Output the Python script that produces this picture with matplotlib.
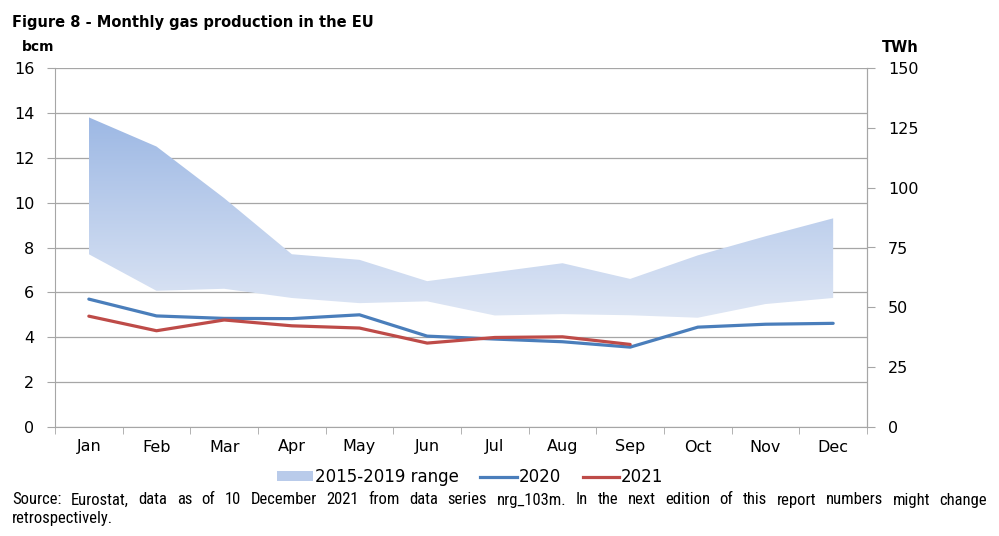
import matplotlib
matplotlib.use("Agg")
import matplotlib.pyplot as plt
import numpy as np
from matplotlib.colors import LinearSegmentedColormap
from matplotlib.patches import Patch
from matplotlib.lines import Line2D
from matplotlib import font_manager as fm

months = ["Jan", "Feb", "Mar", "Apr", "May", "Jun", "Jul", "Aug", "Sep", "Oct", "Nov", "Dec"]
range_upper = [13.8, 12.5, 10.2, 7.7, 7.45, 6.5, 6.9, 7.3, 6.6, 7.65, 8.5, 9.3]
range_lower = [7.7, 6.07, 6.16, 5.75, 5.52, 5.6, 4.97, 5.03, 4.98, 4.87, 5.48, 5.75]
y2020 = [5.7, 4.95, 4.84, 4.83, 5.0, 4.05, 3.92, 3.8, 3.56, 4.45, 4.58, 4.62]
y2021 = [4.94, 4.29, 4.77, 4.51, 4.41, 3.74, 3.99, 4.02, 3.68]
left_ticks = [0, 2, 4, 6, 8, 10, 12, 14, 16]
right_ticks = [0, 25, 50, 75, 100, 125, 150]

# pick a condensed font for the source note if available
available = set(f.name for f in fm.fontManager.ttflist)
narrow = None
for cand in ["Liberation Sans Narrow", "Arial Narrow", "Roboto Condensed", "PT Sans Narrow",
             "Archivo Narrow", "Open Sans Condensed", "Fira Sans Condensed", "IBM Plex Sans Condensed",
             "Encode Sans Condensed", "Barlow Condensed", "Asap Condensed"]:
    if cand in available:
        narrow = cand
        break
if narrow is None:
    src_font = dict(fontsize=9.5, family=["DejaVu Sans"])
else:
    src_font = dict(fontsize=12, family=[narrow, "DejaVu Sans"])

W, H = 999, 536
fig = plt.figure(figsize=(W / 100, H / 100), dpi=100)
ax = fig.add_axes([55 / W, (H - 427) / H, 812 / W, 359 / H])

x = np.arange(len(months))
grid_c = "#a6a6a6"
c2020 = "#4a7ebb"
c2021 = "#be4b48"

# gradient filled range
poly = ax.fill_between(x, range_lower, range_upper, facecolor="none", edgecolor="none")
cmap = LinearSegmentedColormap.from_list("g", ["#dfe7f5", "#9db8e4"])
grad = np.linspace(0, 1, 256).reshape(-1, 1)
ymin, ymax = min(range_lower), max(range_upper)
im = ax.imshow(grad, cmap=cmap, aspect="auto", origin="lower",
               extent=[x[0], x[-1], ymin, ymax], zorder=1)
im.set_clip_path(poly.get_paths()[0], transform=ax.transData)

ax.plot(x, y2020, color=c2020, lw=2.3, zorder=3, solid_capstyle="round")
ax.plot(x[:len(y2021)], y2021, color=c2021, lw=2.3, zorder=3, solid_capstyle="round")

ax.set_xlim(-0.5, 11.5)
ax.set_ylim(0, 16)
ax.set_yticks(left_ticks)
ax.set_yticklabels([str(t) for t in left_ticks], fontsize=11.5)
ax.set_xticks(x)
ax.set_xticklabels(months, fontsize=11.5)
ax.set_xticks(np.arange(-0.5, 12, 1), minor=True)
ax.tick_params(axis="x", which="major", length=0, pad=9)
ax.tick_params(axis="x", which="minor", length=5, color=grid_c, direction="out")
ax.tick_params(axis="y", length=6, color=grid_c, pad=9)
ax.yaxis.grid(True, color=grid_c, lw=0.9)
ax.set_axisbelow(True)
ax.spines["top"].set_visible(False)
for s in ["left", "bottom", "right"]:
    ax.spines[s].set_color(grid_c)

ax2 = ax.twinx()
ax2.set_ylim(0, 150)
ax2.set_yticks(right_ticks)
ax2.set_yticklabels([str(t) for t in right_ticks], fontsize=11.5)
ax2.tick_params(axis="y", length=6, color=grid_c, pad=9)
ax2.spines["top"].set_visible(False)
ax2.spines["left"].set_visible(False)
ax2.spines["bottom"].set_visible(False)
ax2.spines["right"].set_color(grid_c)

# titles and unit labels
fig.text(12 / W, 1 - 22 / H, "Figure 8 - Monthly gas production in the EU",
         fontsize=10.5, fontweight="bold", va="center", ha="left")
fig.text(22 / W, 1 - 47 / H, "bcm", fontsize=10, fontweight="bold", va="center", ha="left")
fig.text(882 / W, 1 - 48 / H, "TWh", fontsize=10.5, fontweight="bold", va="center", ha="left")

# legend
handles = [Patch(facecolor="#b9cbea", edgecolor="none"),
           Line2D([0], [0], color=c2020, lw=2.3),
           Line2D([0], [0], color=c2021, lw=2.3)]
leg = fig.legend(handles, ["2015-2019 range", "2020", "2021"], loc="center",
                 bbox_to_anchor=(470 / W, 1 - 477 / H), ncol=3, frameon=False,
                 fontsize=12, handlelength=2.2, handleheight=0.5, handletextpad=0.1,
                 columnspacing=1.3)

# justified source text
line1 = "Source: Eurostat, data as of 10 December 2021 from data series nrg_103m. In the next edition of this report numbers might change"
words = line1.split(" ")
fig.canvas.draw()
renderer = fig.canvas.get_renderer()
widths = []
for w in words:
    t = fig.text(0, 0, w, **src_font)
    widths.append(t.get_window_extent(renderer).width)
    t.remove()
x0, x1 = 12, 987
gap = (x1 - x0 - sum(widths)) / (len(words) - 1)
cx = x0
for w, wd in zip(words, widths):
    fig.text(cx / W, 1 - 500 / H, w, va="center", ha="left", **src_font)
    cx += wd + gap
fig.text(x0 / W, 1 - 519 / H, "retrospectively.", va="center", ha="left", **src_font)

fig.savefig("out.png", dpi=100)
